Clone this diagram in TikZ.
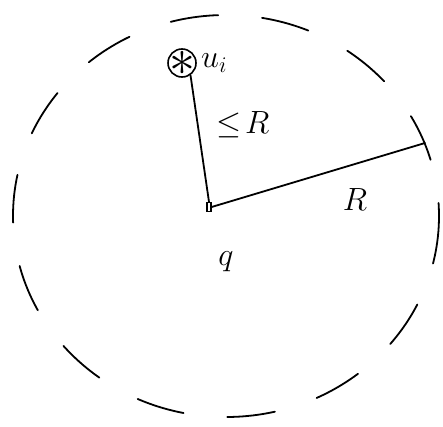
\documentclass[tikz,border=0pt]{standalone}
\usepackage{amsmath,amssymb}
\usepackage{tikz}
\usetikzlibrary{positioning,calc}
\tikzset{
  pen/.style={line width=1.8pt,line cap=round,black},
  rimline/.style={pen,dash pattern=on 48pt off 44pt},
  lbl/.style={font=\huge,scale=1.55,inner sep=0pt},
  pnt/.style={draw,line width=1.2pt,minimum width=4pt,minimum height=9pt,inner sep=0pt},
}
\begin{document}
\begin{tikzpicture}[x=1pt,y=-1pt]
    \useasboundingbox (0,0) rectangle (443,426);
    % ball of radius R round q
    \draw[rimline] (226,216) ellipse [x radius=213,y radius=201];
    % query point and the point u_i
    \node[pnt] (q) at (209,207) {};
    \node[draw,circle,line width=1.6pt,minimum size=28pt,inner sep=0pt] (u) at (182,63) {};
    \node[font=\huge,scale=2.5,inner sep=0pt] (st) at (u) {$\ast$};
    \coordinate (rim) at (425,143);
    \draw[pen] (u.-55) -- (q.north);
    \draw[pen] (q.east) -- (rim);
    % labels
    \node[lbl,right=4pt of u] (ul) {$u_i$};
    \node[lbl] (le) at (243,125) {$\leq\! R$};
    \node[lbl] (rl) at (355,200) {$R$};
    \node[lbl] (ql) at (226,262) {$q$};
  \end{tikzpicture}
\end{document}
